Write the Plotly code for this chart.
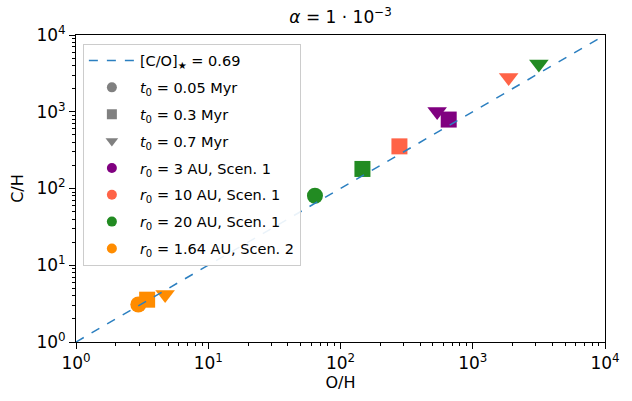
import plotly.graph_objects as go

# ---- data ----
line_oh = [1, 1e4]
line_ch = [1, 1e4]
line_label = "[C/O]<sub>★</sub> = 0.69"

time_labels = ["<i>t</i><sub>0</sub> = 0.05 Myr", "<i>t</i><sub>0</sub> = 0.3 Myr", "<i>t</i><sub>0</sub> = 0.7 Myr"]
time_symbols = ["circle", "square", "triangle-down"]

scen_labels = ["<i>r</i><sub>0</sub> = 3 AU, Scen. 1",
               "<i>r</i><sub>0</sub> = 10 AU, Scen. 1",
               "<i>r</i><sub>0</sub> = 20 AU, Scen. 1",
               "<i>r</i><sub>0</sub> = 1.64 AU, Scen. 2"]
scen_colors = ["#800080", "#FF6347", "#228B22", "#FF8C00"]

oh_r3 = [None, 658, 538]
ch_r3 = [None, 791, 1007]
oh_r10 = [None, 279, 1868]
ch_r10 = [None, 354, 2786]
oh_r20 = [64.1, 146.5, 3162]
ch_r20 = [80.4, 179.8, 4180]
oh_r164 = [2.96, 3.45, 4.72]
ch_r164 = [3.08, 3.56, 4.15]

tick_vals = [1, 10, 100, 1000, 10000]
tick_text = ["10<sup>0</sup>", "10<sup>1</sup>", "10<sup>2</sup>", "10<sup>3</sup>", "10<sup>4</sup>"]

FONT = "DejaVu Sans"
fig = go.Figure()

# data markers
for oh, ch, col in zip([oh_r3, oh_r10, oh_r20, oh_r164],
                       [ch_r3, ch_r10, ch_r20, ch_r164], scen_colors):
    for i in range(3):
        if oh[i] is None:
            continue
        fig.add_trace(go.Scatter(
            x=[oh[i]], y=[ch[i]], mode="markers", showlegend=False,
            marker=dict(symbol=time_symbols[i], color=col,
                        size=16 if i < 2 else 17, line=dict(width=0)),
            hoverinfo="x+y"))

# C/O line (drawn on top)
fig.add_trace(go.Scatter(
    x=line_oh, y=line_ch, mode="lines", name=line_label,
    line=dict(color="#2b7fc0", width=1.5, dash="dash"),
    legendgroup="g0", legendrank=1))

# legend entries: time shapes
for k, (lab, sym) in enumerate(zip(time_labels, time_symbols)):
    fig.add_trace(go.Scatter(
        x=[None], y=[None], mode="markers", name=lab,
        marker=dict(symbol=sym, color="#808080", size=10 if sym != "triangle-down" else 11),
        legendgroup=f"t{k}", legendrank=2 + k))

# legend entries: scenarios
for k, (lab, col) in enumerate(zip(scen_labels, scen_colors)):
    fig.add_trace(go.Scatter(
        x=[None], y=[None], mode="markers", name=lab,
        marker=dict(symbol="circle", color=col, size=10),
        legendgroup=f"s{k}", legendrank=10 + k))

minor_vals = [m * 10 ** e for e in range(4) for m in range(2, 10)]

axis_common = dict(
    type="log", range=[0, 4], tickvals=tick_vals, ticktext=tick_text,
    ticks="outside", ticklen=6, tickwidth=1, tickcolor="black",
    showline=True, linecolor="black", linewidth=1, mirror=True,
    showgrid=False, zeroline=False,
    tickfont=dict(family=FONT, size=17, color="black"),
    minor=dict(ticks="outside", ticklen=3, tickcolor="black", tickwidth=0.8,
               showgrid=False, tickvals=minor_vals),
)

fig.update_layout(
    width=632, height=401,
    margin=dict(l=76, r=18, t=35, b=49),
    paper_bgcolor="white", plot_bgcolor="white",
    font=dict(family=FONT, color="black"),
    title=dict(text="<i>α</i> = 1 · 10<sup>−3</sup>", x=0.5, xref="paper",
               y=1 - 17 / 401, yref="container", yanchor="middle",
               font=dict(family=FONT, size=17)),
    xaxis=dict(axis_common, title=dict(text="O/H", font=dict(family=FONT, size=16), standoff=4)),
    yaxis=dict(axis_common, title=dict(text="C/H", font=dict(family=FONT, size=16), standoff=8)),
    legend=dict(x=0.013, y=0.972, xanchor="left", yanchor="top",
                bgcolor="rgba(255,255,255,0.9)", bordercolor="#cccccc", borderwidth=1,
                font=dict(family=FONT, size=14.5), traceorder="grouped",
                tracegroupgap=5, itemwidth=46),
)

fig.write_html("out.html")
